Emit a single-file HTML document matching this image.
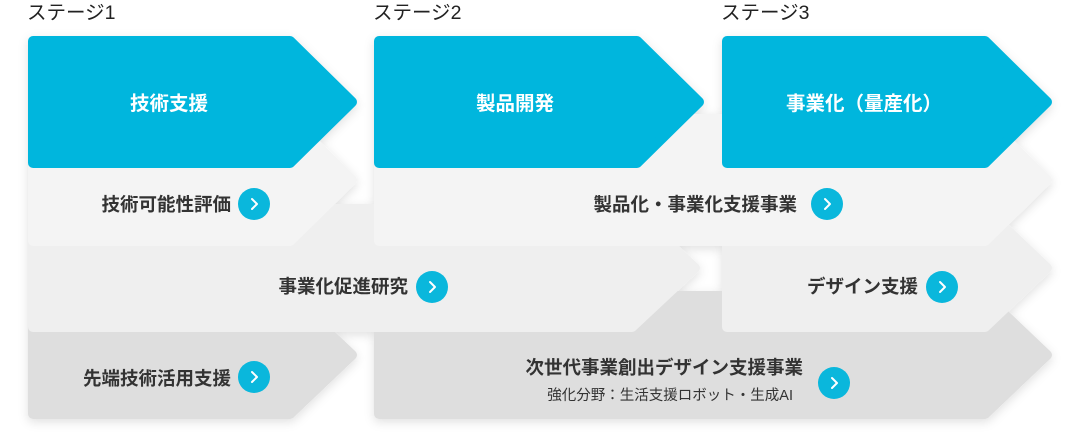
<!DOCTYPE html>
<html><head><meta charset="utf-8"><style>
body{margin:0;background:#fff;width:1080px;height:448px;overflow:hidden;font-family:"Liberation Sans","Noto Sans CJK JP",sans-serif}
svg{display:block}
</style></head><body>
<svg width="1080" height="448" viewBox="0 0 1080 448" xmlns="http://www.w3.org/2000/svg">
<defs>
<filter id="sh" x="-10%" y="-20%" width="125%" height="150%"><feDropShadow dx="0" dy="3" stdDeviation="5" flood-color="#000" flood-opacity="0.12"/></filter>
</defs>
<g font-family="Liberation Sans, Noto Sans CJK JP, sans-serif" font-size="19.5" fill="#222">
<text x="27" y="19">ステージ1</text>
<text x="373" y="19">ステージ2</text>
<text x="721" y="19">ステージ3</text>
</g>
<g filter="url(#sh)" stroke-linejoin="round" stroke-width="10">
<polygon points="33,296 290,296 352,355 290,414 33,414" fill="#dedede" stroke="#dedede"/>
<polygon points="379,296 985,296 1047,355 985,414 379,414" fill="#dedede" stroke="#dedede"/>
<polygon points="33,209 632,209 695,268 632,327 33,327" fill="#efefef" stroke="#efefef"/>
<polygon points="727,209 985,209 1047,268 985,327 727,327" fill="#efefef" stroke="#efefef"/>
<polygon points="33,119 290,119 352,180 290,241 33,241" fill="#f4f4f4" stroke="#f4f4f4"/>
<polygon points="379,119 985,119 1047,180 985,241 379,241" fill="#f4f4f4" stroke="#f4f4f4"/>
<polygon points="33,41 290,41 352,102 290,163 33,163" fill="#06b6dd" stroke="#06b6dd"/>
<polygon points="379,41 637,41 699,102 637,163 379,163" fill="#06b6dd" stroke="#06b6dd"/>
<polygon points="727,41 985,41 1047,102 985,163 727,163" fill="#06b6dd" stroke="#06b6dd"/>
</g>
<g font-family="Liberation Sans, Noto Sans CJK JP, sans-serif" font-weight="bold" font-size="19.5" fill="#fff" text-anchor="middle">
<text x="169" y="110">技術支援</text>
<text x="515" y="110">製品開発</text>
<text x="864" y="110">事業化（量産化）</text>
</g>
<g font-family="Liberation Sans, Noto Sans CJK JP, sans-serif" font-weight="bold" font-size="18.5" fill="#333" text-anchor="end">
<text x="231" y="211">技術可能性評価</text>
<text x="797" y="211">製品化・事業化支援事業</text>
<text x="408" y="293">事業化促進研究</text>
<text x="918" y="293">デザイン支援</text>
<text x="231" y="385">先端技術活用支援</text>
<text x="803" y="374">次世代事業創出デザイン支援事業</text>
<text x="793" y="400" font-weight="normal" font-size="14.5">強化分野：生活支援ロボット・生成AI</text>
</g>
<g fill="#0ab7dc">
<circle cx="254" cy="204" r="16"/><circle cx="827" cy="204" r="16"/>
<circle cx="432" cy="287" r="16"/><circle cx="942" cy="287" r="16"/>
<circle cx="254" cy="377" r="16"/><circle cx="834" cy="383" r="16"/>
</g>
<g fill="none" stroke="#fff" stroke-width="2" stroke-linecap="round" stroke-linejoin="round">
<path d="M252,199 l5,5 l-5,5"/><path d="M825,199 l5,5 l-5,5"/>
<path d="M430,282 l5,5 l-5,5"/><path d="M940,282 l5,5 l-5,5"/>
<path d="M252,372 l5,5 l-5,5"/><path d="M832,378 l5,5 l-5,5"/>
</g>
</svg>
</body></html>
